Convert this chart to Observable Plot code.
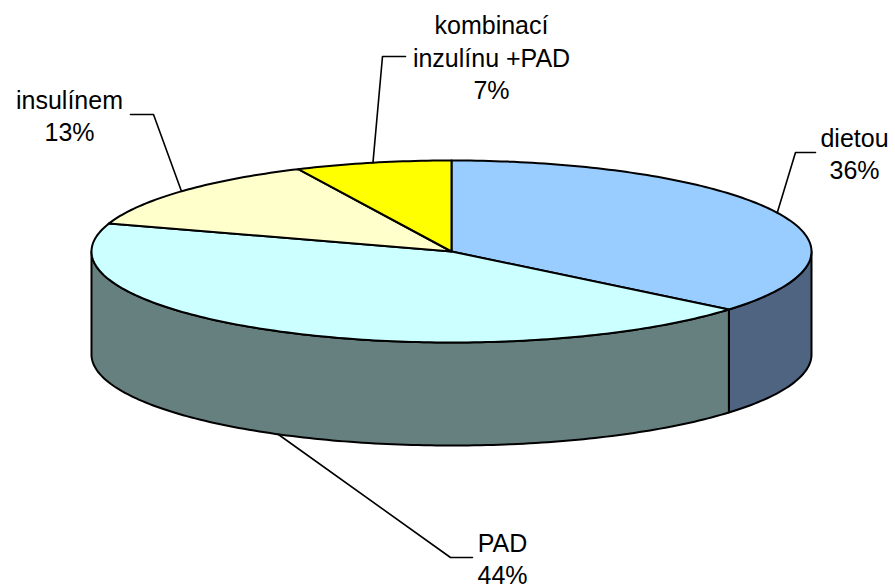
<!DOCTYPE html>
<html>
<head>
<meta charset="utf-8">
<script src="https://cdn.jsdelivr.net/npm/d3@7"></script>
<script src="https://cdn.jsdelivr.net/npm/@observablehq/plot@0.6"></script>
<style>
  html, body { margin: 0; padding: 0; background: #ffffff; }
  #chart svg { display: block; background: #ffffff; }
</style>
</head>
<body>
<div id="chart"></div>
<script>
// ---- data ----
const categories = ["dietou", "PAD", "insulínem", "kombinací\ninzulínu +PAD"];
const values = [36, 44, 13, 7];
const percentLabels = ["36%", "44%", "13%", "7%"];

// ---- styles ----
const topColors = ["#99CCFF", "#CCFFFF", "#FFFFCC", "#FFFF00"];
const sideColors = ["#4E6481", "#668080", "#80806A", "#808000"];

// ---- layout (pixel geometry of the 3D pie) ----
const cx = 451, cy = 251, rx = 360, ry = 91, depth = 103;
// label block centres and leader horizontal segment
const labelCenterX = [854, 502, 69, 491];
const labelCenterY = [152, 557, 114, 56];
const leaderElbowX = [795, 450, 153, 382];
const leaderEndX = [815, 472, 130, 405];

const total = d3.sum(values);
const starts = [], ends = [];
{
  let acc = 0;
  values.forEach(v => { starts.push(acc / total * 360); acc += v; ends.push(acc / total * 360); });
}
function pt(tDeg, dy = 0) {
  const r = tDeg * Math.PI / 180;
  return {x: cx + rx * Math.sin(r), y: cy - ry * Math.cos(r) + dy};
}
function arc(a, b, dy = 0) {
  const n = Math.max(2, Math.ceil(Math.abs(b - a)));
  const out = [];
  for (let i = 0; i <= n; i++) out.push(pt(a + (b - a) * i / n, dy));
  return out;
}

// side walls (front half only: 90..270)
const sides = [];
values.forEach((v, i) => {
  const a = Math.max(starts[i], 90), b = Math.min(ends[i], 270);
  if (b > a) {
    const poly = [...arc(a, b, 0), ...arc(b, a, depth)];
    poly.push(poly[0]);
    sides.push({i, poly});
  }
});
// top faces
const tops = values.map((v, i) => {
  const poly = [{x: cx, y: cy}, ...arc(starts[i], ends[i], 0), {x: cx, y: cy}];
  return {i, poly};
});

// leaders
const leaders = values.map((v, i) => {
  const mid = (starts[i] + ends[i]) / 2;
  const front = mid > 90 && mid < 270;
  const p0 = pt(mid, front ? depth : 0);
  return [p0, {x: leaderElbowX[i], y: labelCenterY[i]}, {x: leaderEndX[i], y: labelCenterY[i]}];
});

const labelData = categories.map((c, i) => ({
  text: c + "\n" + percentLabels[i],
  x: labelCenterX[i],
  y: labelCenterY[i]
}));

const marks = [];
sides.forEach(s => {
  marks.push(Plot.line(s.poly, {x: "x", y: "y", fill: sideColors[s.i], stroke: "#000", strokeWidth: 2, strokeLinejoin: "round", curve: "linear"}));
});
tops.forEach(s => {
  marks.push(Plot.line(s.poly, {x: "x", y: "y", fill: topColors[s.i], stroke: "#000", strokeWidth: 2, strokeLinejoin: "round", curve: "linear"}));
});
leaders.forEach(l => {
  marks.push(Plot.line(l, {x: "x", y: "y", stroke: "#000", strokeWidth: 1.6, curve: "linear"}));
});
marks.push(Plot.text(labelData, {
  x: "x", y: "y", text: "text",
  fontSize: 25, lineHeight: 1.3, textAnchor: "middle",
  fill: "#000", fontFamily: "'Liberation Sans', Arial, sans-serif"
}));

const chart = Plot.plot({
  width: 895,
  height: 588,
  margin: 0,
  x: {domain: [0, 895], range: [0, 895], axis: null},
  y: {domain: [0, 588], range: [0, 588], axis: null},
  marks
});
document.getElementById("chart").appendChild(chart);
</script>
</body>
</html>
